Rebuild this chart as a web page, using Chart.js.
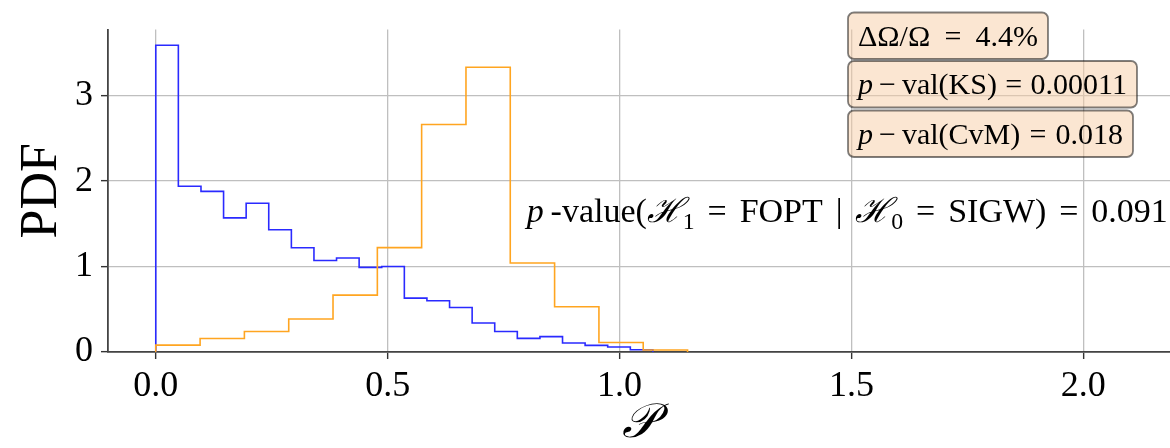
<!DOCTYPE html>
<html>
<head>
<meta charset="utf-8">
<script src="https://cdn.jsdelivr.net/npm/chart.js@4.4.1/dist/chart.umd.min.js"></script>
<style>
  html, body { margin: 0; padding: 0; background: #ffffff; }
  #wrap { width: 1170px; height: 448px; position: relative; }
</style>
</head>
<body>
<div id="wrap"><canvas id="c"></canvas></div>
<script>
// Histogram bin edges and normalised densities (PDF) for the two samples
const blueEdges = [0, 0.0487, 0.0975, 0.1462, 0.1949, 0.2436, 0.2924, 0.3411, 0.3898, 0.4385,
  0.4873, 0.5360, 0.5847, 0.6335, 0.6822, 0.7309, 0.7796, 0.8284, 0.8771, 0.9258, 0.9745, 1.0233, 1.0720];
const bluePdf = [3.59, 1.94, 1.88, 1.57, 1.74, 1.43, 1.22, 1.07, 1.10, 0.99, 1.00,
  0.63, 0.60, 0.52, 0.34, 0.24, 0.16, 0.18, 0.105, 0.077, 0.058, 0.027];

const orangeEdges = [0, 0.0956, 0.1911, 0.2867, 0.3822, 0.4778, 0.5733, 0.6689, 0.7644,
  0.8600, 0.9556, 1.0511, 1.1467];
const orangePdf = [0.081, 0.158, 0.240, 0.387, 0.666, 1.221, 2.663, 3.333, 1.042, 0.530, 0.112, 0.023];

const xTicks = [0, 0.5, 1.0, 1.5, 2.0];
const yTicks = [0, 1, 2, 3];
const xRange = [-0.103, 2.187];
const yRange = [0, 3.773];

const xTitle = '\u{1D4AB}';
const yTitle = 'PDF';

// Statistic boxes: each entry is a list of text runs (italic where flagged)
const statLines = [
  [{ t: 'ΔΩ/Ω = 4.4%' }],
  [{ t: 'p', it: true }, { t: '\u2009−\u2009val(KS) = 0.00011' }],
  [{ t: 'p', it: true }, { t: '\u2009−\u2009val(CvM) = 0.018' }]
];
const statWidths = [180, 269, 265];

const pValueLine = [
  { t: 'p', it: true },
  { t: '\u2009-value(' },
  { t: 'ℋ', it: true },
  { t: '1', sub: true },
  { t: ' = FOPT | ' },
  { t: 'ℋ', it: true },
  { t: '0', sub: true },
  { t: ' = SIGW) = 0.091' }
];
const pValueWidth = 641;

const SERIF = "'Liberation Serif', 'DejaVu Serif', serif";

// Step outline of a histogram (matplotlib histtype="step")
function stepOutline(edges, heights) {
  const pts = [{ x: edges[0], y: 0 }];
  heights.forEach((h, i) => pts.push({ x: edges[i], y: h }));
  pts.push({ x: edges[edges.length - 1], y: 0 });
  return pts;
}

function runFont(run, size) {
  const fs = run.sub ? size * 0.7 : size;
  return (run.it ? 'italic ' : '') + fs + 'px ' + SERIF;
}
// Natural width of the runs and the number of word gaps
function measureRuns(ctx, runs, size) {
  let w = 0, gaps = 0;
  for (const r of runs) {
    ctx.font = runFont(r, size);
    w += ctx.measureText(r.t).width;
    gaps += (r.t.match(/ /g) || []).length;
  }
  return { w, gaps };
}
// Draw runs left to right, stretching word gaps so the line spans `target` px
function drawRuns(ctx, runs, x, y, size, target) {
  const m = measureRuns(ctx, runs, size);
  const extra = target && m.gaps ? (target - m.w) / m.gaps : 0;
  let cx = x;
  for (const r of runs) {
    ctx.font = runFont(r, size);
    const dy = r.sub ? size * 0.22 : 0;
    const parts = r.t.split(' ');
    const sp = ctx.measureText(' ').width;
    parts.forEach((p, k) => {
      if (k > 0) cx += sp + extra;
      ctx.fillText(p, cx, y + dy);
      cx += ctx.measureText(p).width;
    });
  }
  return cx - x;
}

const annotations = {
  id: 'annotations',
  afterDraw(chart) {
    const ctx = chart.ctx;
    const area = chart.chartArea;
    const xs = chart.scales.x;
    ctx.save();
    ctx.textBaseline = 'alphabetic';
    ctx.textAlign = 'left';
    ctx.fillStyle = '#000000';

    // axis titles
    ctx.font = '52px ' + SERIF;
    ctx.save();
    ctx.translate(56, (area.top + area.bottom) / 2);
    ctx.rotate(-Math.PI / 2);
    ctx.textAlign = 'center';
    ctx.fillText(yTitle, 0, 0);
    ctx.restore();
    ctx.font = 'italic 48px ' + SERIF;
    ctx.textAlign = 'center';
    ctx.fillText(xTitle, (area.left + area.right) / 2, 437);
    ctx.textAlign = 'left';

    // p-value statement
    drawRuns(ctx, pValueLine, xs.getPixelForValue(0.8), 222, 34, pValueWidth);

    // statistic boxes
    const size = 30, pad = 10, boxH = 46.5;
    const boxLeft = area.left + 740;
    const tops = [12.5, 61, 110.5];
    statLines.forEach((runs, i) => {
      const w = statWidths[i];
      ctx.beginPath();
      ctx.roundRect(boxLeft, tops[i], w + 2 * pad, boxH, 6);
      ctx.fillStyle = 'rgba(248, 206, 166, 0.5)';
      ctx.fill();
      ctx.lineWidth = 1.8;
      ctx.strokeStyle = 'rgba(0, 0, 0, 0.5)';
      ctx.stroke();
      ctx.fillStyle = '#000000';
      drawRuns(ctx, runs, boxLeft + pad, tops[i] + 33, size, w);
    });
    ctx.restore();
  }
};

new Chart(document.getElementById('c'), {
  type: 'line',
  data: {
    datasets: [
      {
        label: 'FOPT',
        data: stepOutline(orangeEdges, orangePdf),
        borderColor: '#ffa520',
        borderWidth: 1.6,
        stepped: 'before',
        pointRadius: 0,
        fill: false
      },
      {
        label: 'SIGW',
        data: stepOutline(blueEdges, bluePdf),
        borderColor: '#2a2aff',
        borderWidth: 1.6,
        stepped: 'before',
        pointRadius: 0,
        fill: false
      }
    ]
  },
  options: {
    responsive: true,
    maintainAspectRatio: false,
    animation: false,
    devicePixelRatio: 1,
    layout: { padding: { top: 27, right: 0, left: 0, bottom: 0 } },
    plugins: { legend: { display: false }, tooltip: { enabled: false } },
    scales: {
      x: {
        type: 'linear',
        min: xRange[0],
        max: xRange[1],
        afterBuildTicks: s => { s.ticks = xTicks.map(v => ({ value: v })); },
        afterFit: s => { s.height = 96; },
        grid: { color: '#bfbfbf', lineWidth: 1.3, tickColor: '#333333', tickLength: 7, tickWidth: 1.4 },
        border: { color: '#444444', width: 1.8 },
        ticks: {
          color: '#000000',
          padding: 6,
          font: { family: SERIF, size: 36 },
          callback: v => Number(v).toFixed(1)
        }
      },
      y: {
        type: 'linear',
        min: yRange[0],
        max: yRange[1],
        afterBuildTicks: s => { s.ticks = yTicks.map(v => ({ value: v })); },
        afterFit: s => { s.width = 108; },
        grid: { color: '#bfbfbf', lineWidth: 1.3, tickColor: '#333333', tickLength: 7, tickWidth: 1.4 },
        border: { color: '#444444', width: 1.8 },
        ticks: {
          color: '#000000',
          padding: 8,
          font: { family: SERIF, size: 36 },
          callback: v => String(v)
        }
      }
    }
  },
  plugins: [annotations]
});
</script>
</body>
</html>
